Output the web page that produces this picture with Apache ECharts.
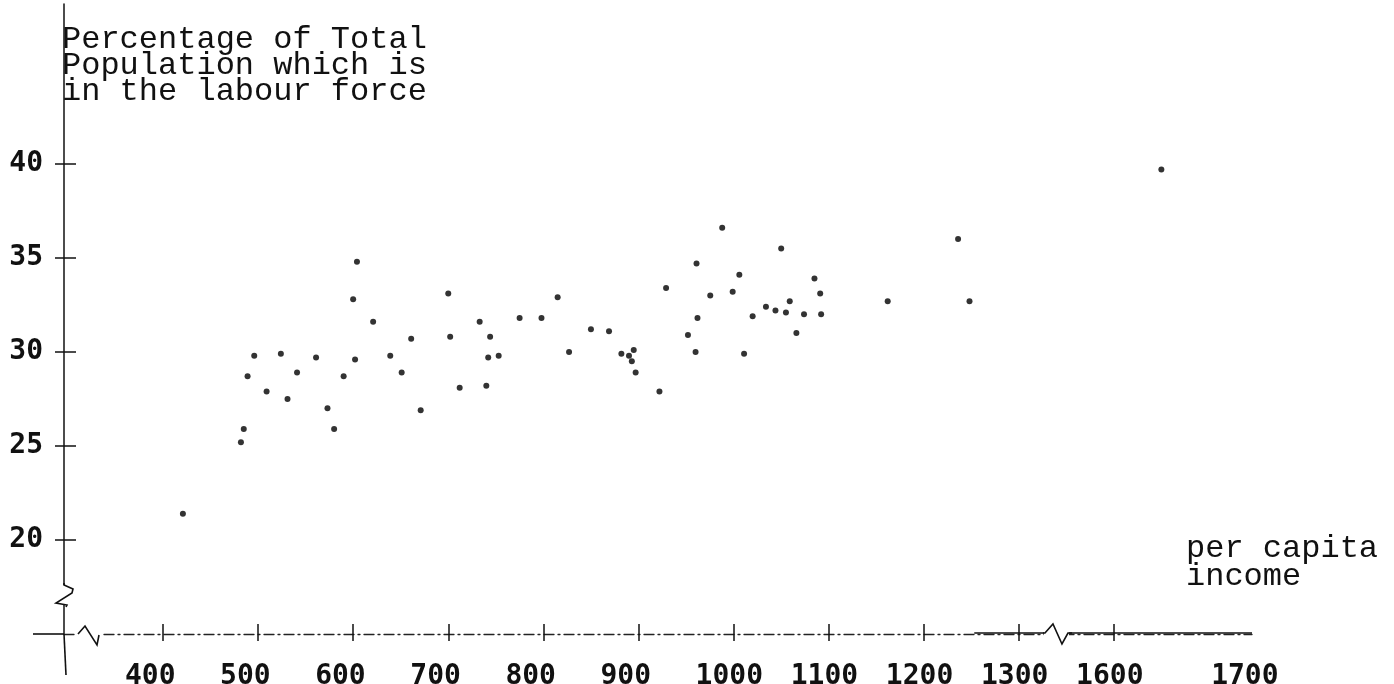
<!DOCTYPE html>
<html>
<head>
<meta charset="utf-8">
<script src="https://cdn.jsdelivr.net/npm/echarts@6/dist/echarts.min.js"></script>
<style>
  html, body { margin: 0; background: #fff; }
  #main { width: 1394px; height: 684px; }
</style>
</head>
<body>
<div id="main"></div>
<script>
// per capita income vs percentage of population in the labour force
const income = [
  604, 600, 621, 661, 496, 524, 561, 602, 639, 489, 541, 590, 651, 509, 531, 573, 671, 580, 485, 482, 421,
  700, 702, 733, 744, 742, 753, 712, 740, 775, 798, 815, 827, 850, 869, 882, 890, 895, 893, 897, 922,
  929, 961, 962, 952, 960, 988, 1050, 1006, 999, 1059, 1034, 1044, 1055, 1020, 1074, 1085, 1091, 1092,
  1066, 1011, 1162, 1236, 1248, 1301, 1635
];
const labourPct = [
  34.8, 32.8, 31.6, 30.7, 29.8, 29.9, 29.7, 29.6, 29.8, 28.7, 28.9, 28.7, 28.9, 27.9, 27.5, 27.0, 26.9, 25.9, 25.9, 25.2, 21.4,
  33.1, 30.8, 31.6, 30.8, 29.7, 29.8, 28.1, 28.2, 31.8, 31.8, 32.9, 30.0, 31.2, 31.1, 29.9, 29.8, 30.1, 29.5, 28.9, 27.9,
  33.4, 34.7, 31.8, 30.9, 30.0, 36.6, 35.5, 34.1, 33.2, 32.7, 32.4, 32.2, 32.1, 31.9, 32.0, 33.9, 33.1, 32.0,
  31.0, 29.9, 32.7, 36.0, 32.7, 33.0, 39.7
];
const xTickIncomes = [400, 500, 600, 700, 800, 900, 1000, 1100, 1200, 1300, 1600];
const xLabelIncomes = [400, 500, 600, 700, 800, 900, 1000, 1100, 1200, 1300, 1600, 1700];
const yTicks = [20, 25, 30, 35, 40];

// income axis is broken between 1300 and 1600, the part after the break is drawn wider
function toAxisPos(v) { return v <= 1300 ? v : 1400 + (v - 1600) * 1.42; }
function fromAxisPos(p) { return p <= 1300 ? p : 1600 + (p - 1400) / 1.42; }

const X_MIN = 296, X_MAX = 1545, Y_MIN = 15, Y_MAX = 48.5;
const ink = '#111';
const numFont = { fontFamily: 'DejaVu Sans Mono', fontWeight: 'bold', fontSize: 28, color: ink };
const typeFont = { fontFamily: 'Liberation Mono', fontWeight: 'normal', fontSize: 32, color: ink };

const chartDom = document.getElementById('main');
const myChart = echarts.init(chartDom);

const gridBox = { top: 4, width: 1188, height: 630, outerBoundsMode: 'none', containLabel: false };

const option = {
  animation: false,
  backgroundColor: '#fff',
  title: [
    {
      text: 'Percentage of Total\nPopulation which is\nin the labour force',
      left: 62, top: 27, padding: 0,
      textStyle: Object.assign({ lineHeight: 26 }, typeFont)
    },
    {
      text: 'per capita\nincome',
      left: 1186, top: 535, padding: 0,
      textStyle: Object.assign({ lineHeight: 28 }, typeFont)
    }
  ],
  grid: [
    Object.assign({ left: 64 }, gridBox),   // plot
    Object.assign({ left: 26 }, gridBox),   // x labels, set left of their ticks like the typed ones
    Object.assign({ left: 64 }, gridBox)    // upper half of the tick crosses
  ],
  xAxis: [
    {
      gridIndex: 0, type: 'value', min: X_MIN, max: X_MAX,
      axisLine: { lineStyle: { color: '#222', width: 1.3, type: [10, 4, 2, 4] } },
      axisTick: { customValues: xTickIncomes.map(toAxisPos), length: 7, lineStyle: { color: ink, width: 1.5 } },
      axisLabel: { show: false },
      splitLine: { show: false }
    },
    {
      gridIndex: 1, type: 'value', min: X_MIN, max: X_MAX,
      axisLine: { show: false }, axisTick: { show: false }, splitLine: { show: false },
      axisLabel: Object.assign({
        customValues: xLabelIncomes.map(toAxisPos),
        formatter: (v) => String(Math.round(fromAxisPos(v))),
        align: 'left', margin: 29
      }, numFont)
    },
    {
      gridIndex: 2, type: 'value', min: X_MIN, max: X_MAX,
      axisLine: { show: false }, axisLabel: { show: false }, splitLine: { show: false },
      axisTick: { customValues: xTickIncomes.map(toAxisPos), inside: true, length: 10, lineStyle: { color: ink, width: 1.5 } }
    }
  ],
  yAxis: [
    {
      gridIndex: 0, type: 'value', min: Y_MIN, max: Y_MAX,
      axisLine: { show: true, lineStyle: { color: ink, width: 1.5 } },
      axisTick: { show: true, customValues: yTicks, length: 9, lineStyle: { color: ink, width: 1.5 } },
      axisLabel: Object.assign({ customValues: yTicks, margin: 21 }, numFont),
      splitLine: { show: false }
    },
    { gridIndex: 1, type: 'value', min: Y_MIN, max: Y_MAX, show: false },
    {
      gridIndex: 2, type: 'value', min: Y_MIN, max: Y_MAX,
      axisLine: { show: false }, axisLabel: { show: false }, splitLine: { show: false },
      axisTick: { show: true, customValues: yTicks, inside: true, length: 12, lineStyle: { color: ink, width: 1.5 } }
    }
  ],
  series: [
    {
      type: 'scatter',
      xAxisIndex: 0, yAxisIndex: 0,
      data: income.map((v, i) => [toAxisPos(v), labourPct[i]]),
      symbolSize: 6,
      itemStyle: { color: '#000' }
    }
  ]
};
myChart.setOption(option);

// axis stubs and the hand drawn break marks
const o = myChart.convertToPixel({ gridIndex: 0 }, [X_MIN, Y_MIN]);
const x1300 = myChart.convertToPixel({ gridIndex: 0 }, [toAxisPos(1300), Y_MIN])[0];
const xSolid = myChart.convertToPixel({ gridIndex: 0 }, [1253, Y_MIN])[0];
const xEnd = myChart.convertToPixel({ gridIndex: 0 }, [X_MAX, Y_MIN])[0];
const ax = o[0], ay = o[1];
const pen = { stroke: ink, lineWidth: 1.6, fill: null };
const shift = (pts, dx, dy) => pts.map((p) => [p[0] + dx, p[1] + dy]);

myChart.setOption({
  graphic: [
    { type: 'line', shape: { x1: ax - 31, y1: ay, x2: ax, y2: ay }, style: pen, z: 100 },
    { type: 'line', shape: { x1: ax, y1: ay, x2: ax + 2, y2: ay + 41 }, style: pen, z: 100 },
    { type: 'line', shape: { x1: xSolid, y1: ay - 1, x2: xEnd, y2: ay - 1 }, style: pen, z: 100 },
    // x break near the origin
    { type: 'rect', shape: { x: ax + 13, y: ay - 3, width: 24, height: 6 }, style: { fill: '#fff' }, z: 100 },
    { type: 'polyline', shape: { points: shift([[0, 0], [7, -8], [19, 11], [21, 1]], ax + 14, ay) }, style: pen, z: 101 },
    // x break between 1300 and 1600
    { type: 'rect', shape: { x: x1300 + 25, y: ay - 3, width: 25, height: 6 }, style: { fill: '#fff' }, z: 100 },
    { type: 'polyline', shape: { points: shift([[-2, 0], [0, 0], [8, -9], [17, 11], [23, 0], [27, 0]], x1300 + 26, ay - 1) }, style: pen, z: 101 },
    // y break
    { type: 'rect', shape: { x: ax - 3, y: ay - 49, width: 6, height: 20 }, style: { fill: '#fff' }, z: 100 },
    { type: 'polyline', shape: { points: shift([[0, -51], [0, -49], [9, -45], [8, -41], [-8, -31], [3, -29], [2, -27]], ax, ay) }, style: pen, z: 101 }
  ]
});
</script>
</body>
</html>
